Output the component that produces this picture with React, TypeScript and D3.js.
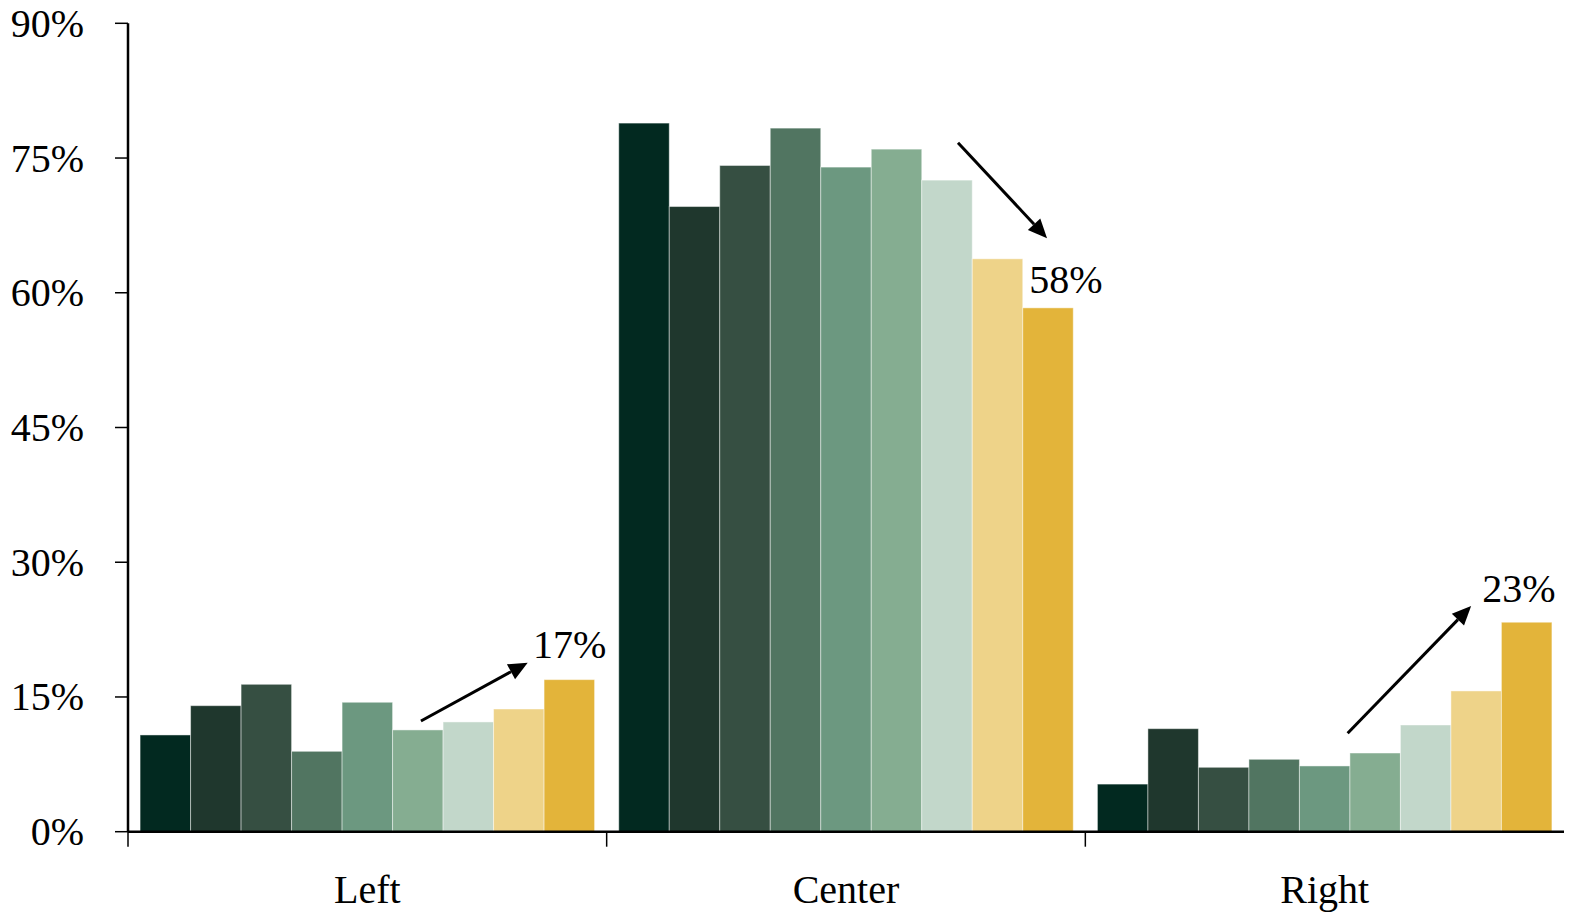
import React from "react";
import * as d3 from "d3";

const categories = ["Left", "Center", "Right"];
const leftValues = [10.77, 14.03, 16.41, 8.95, 14.41, 11.33, 12.22, 13.66, 16.93];
const centerValues = [78.89, 69.6, 74.17, 78.33, 73.99, 75.99, 72.54, 63.78, 58.32];
const rightValues = [5.3, 11.47, 7.17, 8.06, 7.32, 8.76, 11.88, 15.67, 23.32];
const groupValues = [leftValues, centerValues, rightValues];
const seriesColors = [
  "#022920", "#1f372d", "#364f42", "#517561", "#6c9880",
  "#85ad91", "#c2d7ca", "#eed389", "#e3b43a",
];
const yTicks = [0, 15, 30, 45, 60, 75, 90];

// annotations in data coordinates (x: group units, y: percent)
const arrowTails = [
  [0.112, 12.33],
  [1.234, 76.7],
  [2.048, 10.96],
];
const arrowHeads = [
  [0.335, 18.82],
  [1.42, 66.08],
  [2.306, 25.13],
];
const labelPos = [
  [0.346, 19.34],
  [1.383, 60.0],
  [2.329, 25.55],
];
const labelTexts = ["17%", "58%", "23%"];

const W = 1576;
const H = 916;
const FONT = "'Liberation Serif', 'Times New Roman', serif";

export default function App() {
  const x = d3.scaleLinear().domain([-0.5, 2.5]).range([128, 1564]);
  const y = d3.scaleLinear().domain([0, 90]).range([831.7, 23.3]);
  const bw = 0.1055;
  const n = seriesColors.length;
  const bwPx = x(bw) - x(0);

  const arrows = arrowTails.map((t, k) => {
    const h = arrowHeads[k];
    const x1 = x(t[0]), y1 = y(t[1]);
    const x2 = x(h[0]), y2 = y(h[1]);
    const dx = x2 - x1, dy = y2 - y1;
    const len = Math.sqrt(dx * dx + dy * dy);
    const ux = dx / len, uy = dy / len;
    const hl = 19, hw = 8.5;
    const bx = x2 - ux * hl, by = y2 - uy * hl;
    const px = -uy, py = ux;
    const pts = [
      [x2, y2],
      [bx + px * hw, by + py * hw],
      [bx - px * hw, by - py * hw],
    ];
    return { x1, y1, bx, by, pts };
  });

  return (
    <svg
      width={W}
      height={H}
      style={{ position: "absolute", left: 0, top: 0, background: "#fff" }}
    >
      {groupValues.map((vals, g) =>
        vals.map((v, i) => {
          const left = x(g + (i - n / 2) * bw);
          return (
            <rect
              key={`${g}-${i}`}
              x={left}
              y={y(v)}
              width={bwPx}
              height={y(0) - y(v)}
              fill={seriesColors[i]}
              stroke="rgba(255,255,255,0.45)"
              strokeWidth={1}
            />
          );
        })
      )}
      {/* y axis */}
      <line x1={x(-0.5)} x2={x(-0.5)} y1={y(90)} y2={y(0)} stroke="#000" strokeWidth={2.5} />
      {yTicks.map((t) => (
        <g key={t}>
          <line x1={x(-0.5) - 13} x2={x(-0.5)} y1={y(t)} y2={y(t)} stroke="#000" strokeWidth={1.5} />
          <text
            x={84}
            y={y(t) + 13.5}
            textAnchor="end"
            fontFamily={FONT}
            fontSize={40}
            fill="#000"
          >
            {`${t}%`}
          </text>
        </g>
      ))}
      {/* x axis */}
      <line x1={x(-0.5)} x2={x(2.5)} y1={y(0)} y2={y(0)} stroke="#000" strokeWidth={2.5} />
      {[-0.5, 0.5, 1.5].map((b) => (
        <line key={b} x1={x(b)} x2={x(b)} y1={y(0)} y2={y(0) + 15} stroke="#000" strokeWidth={1.5} />
      ))}
      {categories.map((c, g) => (
        <text
          key={c}
          x={x(g)}
          y={903}
          textAnchor="middle"
          fontFamily={FONT}
          fontSize={40}
          fill="#000"
        >
          {c}
        </text>
      ))}
      {arrows.map((a, k) => (
        <g key={k}>
          <line x1={a.x1} y1={a.y1} x2={a.bx} y2={a.by} stroke="#000" strokeWidth={3} />
          <polygon points={a.pts.map((p) => p.join(",")).join(" ")} fill="#000" />
        </g>
      ))}
      {labelTexts.map((t, k) => (
        <text
          key={t}
          x={x(labelPos[k][0])}
          y={y(labelPos[k][1])}
          fontFamily={FONT}
          fontSize={40}
          fill="#000"
        >
          {t}
        </text>
      ))}
    </svg>
  );
}
